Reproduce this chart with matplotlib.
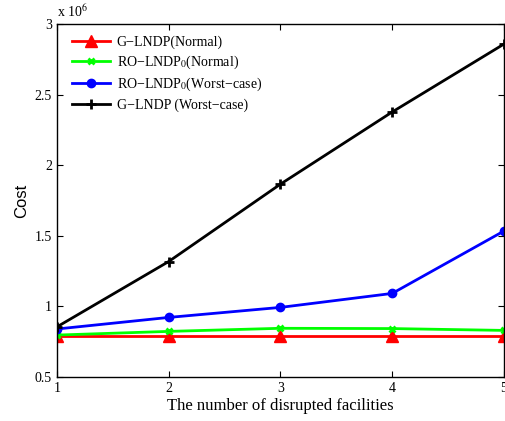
import numpy as np
import matplotlib
matplotlib.use("Agg")
import matplotlib.pyplot as plt

# disrupted facilities vs. cost (in 1e6)
n_disrupted = [1, 2, 3, 4, 5]
g_normal = [0.79, 0.79, 0.79, 0.79, 0.79]
ro_normal = [0.797, 0.823, 0.845, 0.843, 0.830]
ro_worst = [0.840, 0.922, 0.993, 1.092, 1.534]
g_worst = [0.855, 1.318, 1.866, 2.377, 2.858]

serif = ["Liberation Serif", "DejaVu Serif"]
plt.rcParams["font.family"] = serif
plt.rcParams["mathtext.fontset"] = "stix"

fig = plt.figure(figsize=(5.06, 4.21), dpi=100, facecolor="white")
ax = fig.add_axes([0.1126, 0.1045, 0.8834, 0.8385])

ax.plot(n_disrupted, g_normal, color="red", lw=2, marker="^", ms=8,
        label="G\u2212LNDP(Normal)")
ax.plot(n_disrupted, ro_normal, color="#00ff00", lw=2, marker="x", ms=5, mew=2,
        label="RO\u2212LNDP$_0$(Normal)")
ax.plot(n_disrupted, ro_worst, color="blue", lw=2, marker="o", ms=6,
        label="RO\u2212LNDP$_0$(Worst\u2212case)")
ax.plot(n_disrupted, g_worst, color="black", lw=2, marker="+", ms=7, mew=2,
        label="G\u2212LNDP (Worst\u2212case)")

ax.set_xlim(1, 5)
ax.set_ylim(0.5, 3)
ax.set_xticks(n_disrupted)
ax.set_yticks([0.5, 1, 1.5, 2, 2.5, 3])
ax.set_yticklabels(["0.5", "1", "1.5", "2", "2.5", "3"])
ax.tick_params(direction="in", top=True, right=True, labelsize=10, length=4)
for s in ax.spines.values():
    s.set_linewidth(1.0)

ax.set_xlabel("The number of disrupted facilities", fontsize=12, labelpad=2)
ax.set_ylabel("Cost", fontsize=12, family="Liberation Sans", labelpad=4)
ax.text(0.0, 1.012, r"x 10$^6$", transform=ax.transAxes, fontsize=10,
        ha="left", va="bottom")

leg = ax.legend(loc="upper left", frameon=False, fontsize=10, handlelength=2.7,
                bbox_to_anchor=(0.012, 0.995),
                borderaxespad=0.3, labelspacing=0.35, handletextpad=0.5)

fig.savefig("out.png", dpi=100)
